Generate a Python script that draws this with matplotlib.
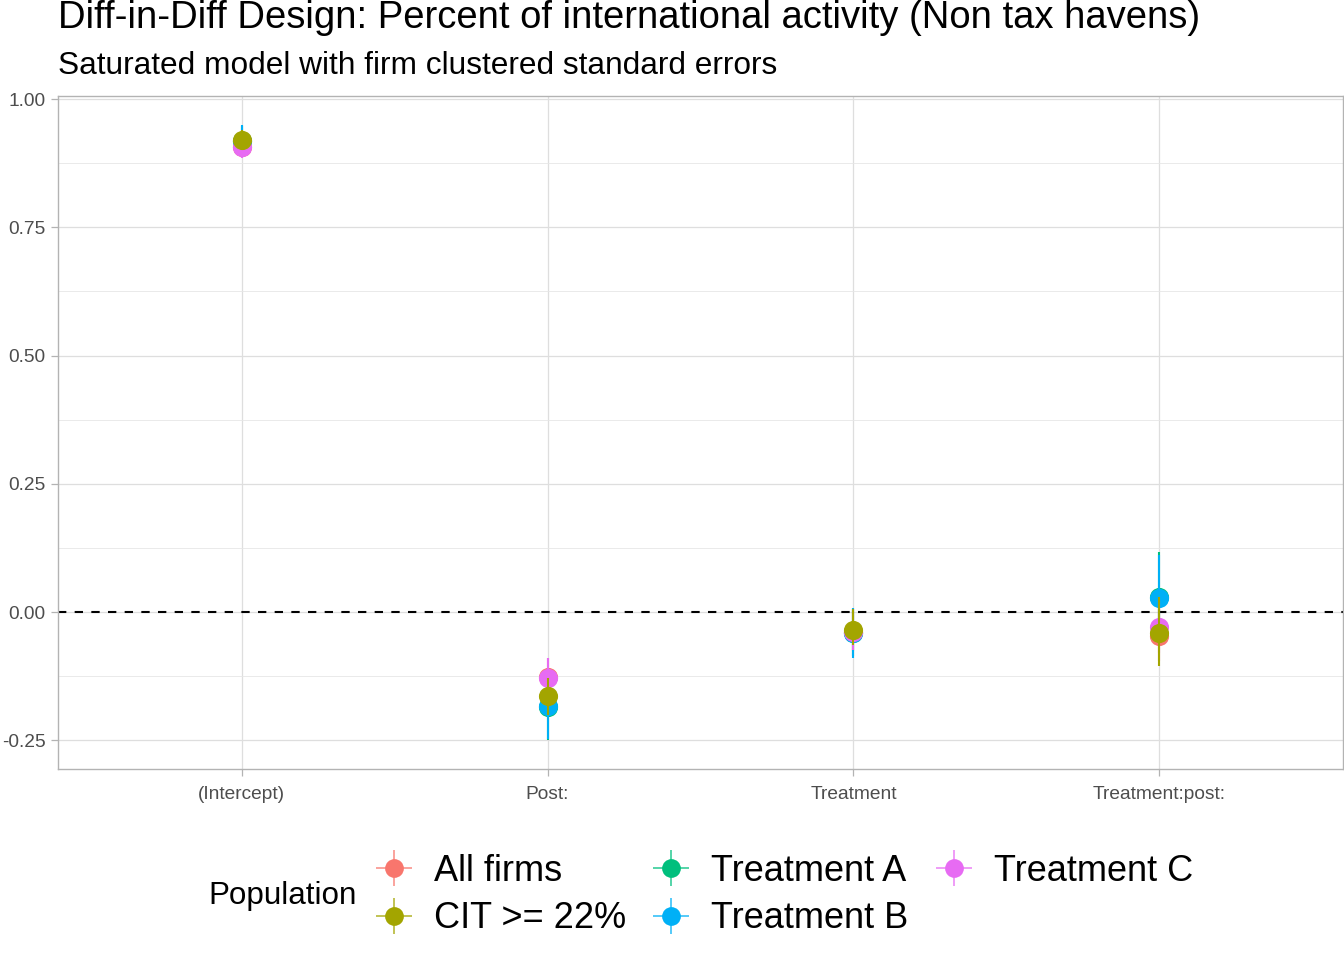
import numpy as np
import matplotlib
matplotlib.use('Agg')
import matplotlib.pyplot as plt
from matplotlib.lines import Line2D
from matplotlib.legend_handler import HandlerTuple

plt.rcParams['font.family'] = ['Liberation Sans', 'DejaVu Sans']
plt.rcParams['axes.unicode_minus'] = False

# coefficient estimates
terms = ['(Intercept)', 'Post:', 'Treatment', 'Treatment:post:']

all_est = [0.906, -0.127, -0.038, -0.046]
all_lo = [0.886, -0.165, -0.075, -0.095]
all_hi = [0.926, -0.089, 0.000, 0.003]

cit_est = [0.920, -0.164, -0.035, -0.041]
cit_lo = [0.900, -0.200, -0.064, -0.105]
cit_hi = [0.940, -0.128, 0.006, 0.030]

ta_est = [0.918, -0.185, -0.040, 0.030]
ta_lo = [0.888, -0.250, -0.085, -0.055]
ta_hi = [0.948, -0.120, 0.005, 0.117]

tb_est = [0.918, -0.183, -0.041, 0.027]
tb_lo = [0.887, -0.248, -0.090, -0.057]
tb_hi = [0.949, -0.118, 0.008, 0.111]

tc_est = [0.907, -0.129, -0.039, -0.029]
tc_lo = [0.885, -0.168, -0.074, -0.080]
tc_hi = [0.929, -0.090, 0.003, 0.022]

labels = ['All firms', 'CIT >= 22%', 'Treatment A', 'Treatment B', 'Treatment C']
colors = ['#F8766D', '#A3A500', '#00BF7D', '#00B0F6', '#E76BF3']
series = [(all_est, all_lo, all_hi), (cit_est, cit_lo, cit_hi),
          (ta_est, ta_lo, ta_hi), (tb_est, tb_lo, tb_hi), (tc_est, tc_lo, tc_hi)]
draw_order = [0, 2, 3, 4, 1]

yticks = [-0.25, 0.0, 0.25, 0.5, 0.75, 1.0]

fig = plt.figure(figsize=(13.44, 9.6), dpi=100)
ax = fig.add_axes([58/1344, 1-769/960, (1343-58)/1344, (769-96)/960])

x = np.arange(1, len(terms)+1)
for z, i in enumerate(draw_order):
    est, lo, hi = [np.array(a) for a in series[i]]
    ax.vlines(x, lo, hi, color=colors[i], lw=1.5, zorder=3+2*z)
    ax.plot(x, est, 'o', color=colors[i], ms=13.8, mew=0, zorder=4+2*z)

ax.axhline(0, color='black', ls=(0, (4, 4)), lw=1.5, zorder=2)

ax.set_xlim(0.4, 4.6)
ax.set_ylim(-0.306, 1.006)
ax.set_xticks(x)
ax.set_xticklabels(terms)
ax.set_yticks(yticks)
ax.set_yticklabels(['%.2f' % v for v in yticks])
ax.set_yticks([-0.125, 0.125, 0.375, 0.625, 0.875], minor=True)
ax.grid(True, which='major', color='#DEDEDE', lw=0.9, zorder=0)
ax.grid(True, which='minor', axis='y', color='#E6E6E6', lw=0.6, zorder=0)
ax.set_axisbelow(True)
for s in ax.spines.values():
    s.set_color('#B3B3B3')
    s.set_linewidth(1.0)
ax.tick_params(which='major', color='#B3B3B3', length=5, width=0.9,
               labelsize=13.8, labelcolor='#4D4D4D', pad=4)
ax.tick_params(axis='x', pad=7)
ax.tick_params(which='minor', length=0)

fig.text(58/1344, 1-28/960, 'Diff-in-Diff Design: Percent of international activity (Non tax havens)',
         fontsize=27.5, va='baseline', ha='left')
fig.text(58/1344, 1-74/960, 'Saturated model with firm clustered standard errors',
         fontsize=22.8, va='baseline', ha='left')

handles = []
for i in range(len(labels)):
    cross = Line2D([], [], ls='none', marker='+', ms=26.5, mew=1.1, color=colors[i], alpha=0.85)
    dot = Line2D([], [], ls='none', marker='o', ms=13.5, mew=0, color=colors[i])
    handles.append((cross, dot))

fig.text(208/1344, 1-904/960, 'Population', fontsize=22.6, va='baseline', ha='left')
fig.legend(handles, labels, handler_map={tuple: HandlerTuple(ndivide=1)},
           loc='center left', bbox_to_anchor=(375.5/1344, 1-895/960), ncol=3,
           frameon=False, fontsize=26, handlelength=1.02, handletextpad=0.6,
           columnspacing=0.74, labelspacing=0.34, borderpad=0, borderaxespad=0)

fig.savefig('out.png', dpi=100)
